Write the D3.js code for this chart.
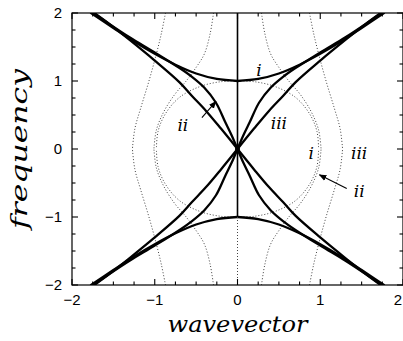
<!DOCTYPE html>
<html>
<head>
<meta charset="utf-8">
<script src="https://cdn.jsdelivr.net/npm/d3@7"></script>
<style>
  body { margin: 0; background: #fff; }
  svg { display: block; }
</style>
</head>
<body>
<div id="chart"></div>
<script>
// upper-right quadrant of each branch [wavevector, frequency]; drawn mirrored
const solidI   = [[0,1.00],[0.25,1.03],[0.5,1.11],[0.75,1.24],[1.0,1.40],[1.25,1.58],[1.5,1.78],[1.77,2.0]];
const solidII  = [[0,0],[0.07,0.2],[0.15,0.4],[0.26,0.68],[0.4,0.9],[0.55,1.06],[0.7,1.19],[1.0,1.42],[1.3,1.64],[1.55,1.84],[1.74,2.0]];
const solidIII = [[0,0],[0.2,0.3],[0.38,0.56],[0.55,0.78],[0.7,0.98],[1.0,1.3],[1.3,1.6],[1.55,1.84],[1.73,2.0]];
const dotI     = [[0,1.0],[0.2,0.99],[0.45,0.92],[0.7,0.76],[0.87,0.52],[0.96,0.26],[0.98,0]];
const dotII    = [[0.29,2.0],[0.33,1.7],[0.4,1.4],[0.5,1.2],[0.62,1.0],[0.76,0.8],[0.89,0.55],[0.98,0.28],[1.01,0]];
const dotIII   = [[0.87,2.0],[0.92,1.7],[0.98,1.4],[1.07,1.0],[1.17,0.6],[1.24,0.3],[1.27,0]];
const centerSolid = [[0,2],[0,-1]];
const centerDot   = [[0,-1],[0,-2]];

const xTicks = [-2,-1,0,1,2];
const yTicks = [-2,-1,0,1,2];
const romanLabels = [
  {t:'i',   k:0.26,  w:1.15},
  {t:'iii', k:0.50,  w:0.37},
  {t:'ii',  k:-0.66, w:0.34},
  {t:'i',   k:0.89,  w:-0.07},
  {t:'iii', k:1.47,  w:-0.07},
  {t:'ii',  k:1.47,  w:-0.63}
];
const arrows = [
  {from:[-0.43,0.46], to:[-0.26,0.70]},
  {from:[1.32,-0.58], to:[0.99,-0.38]}
];

const W = 403, H = 341;
const margin = {top: 13, left: 72, bottom: 56, right: 0};

const x = d3.scaleLinear().domain([-2,2]).range([margin.left, W - margin.right]);
const y = d3.scaleLinear().domain([-2,2]).range([H - margin.bottom, margin.top]);

const svg = d3.select('#chart').append('svg')
  .attr('width', W).attr('height', H);

svg.append('defs').append('clipPath').attr('id','plot')
  .append('rect')
  .attr('x', x(-2)).attr('y', y(2))
  .attr('width', x(2) - x(-2)).attr('height', y(-2) - y(2));

svg.append('defs').append('marker')
  .attr('id','head').attr('viewBox','0 0 10 10')
  .attr('refX', 9).attr('refY', 5)
  .attr('markerWidth', 7).attr('markerHeight', 7)
  .attr('orient','auto')
  .append('path').attr('d','M0,1 L10,5 L0,9 Z').attr('fill','#000');

const line = d3.line()
  .x(d => x(d[0]))
  .y(d => y(d[1]))
  .curve(d3.curveCatmullRom);

// 四个象限镜像
const mirrors = [[1,1],[-1,1],[1,-1],[-1,-1]];
const plot = svg.append('g').attr('clip-path','url(#plot)');

function drawBranch(data, style) {
  mirrors.forEach(([sx, sy]) => {
    plot.append('path')
      .datum(data.map(d => [d[0]*sx, d[1]*sy]))
      .attr('d', line)
      .attr('fill','none')
      .attr('stroke', style.stroke)
      .attr('stroke-width', style.width)
      .attr('stroke-dasharray', style.dash || null)
      .attr('stroke-linecap', style.cap || 'butt');
  });
}

const dotted = {stroke:'#444', width:1, dash:'1,2'};
const solid  = {stroke:'#000', width:2.3, cap:'round'};

drawBranch(dotI, dotted);
drawBranch(dotII, dotted);
drawBranch(dotIII, dotted);
drawBranch(solidI, solid);
drawBranch(solidII, solid);
drawBranch(solidIII, solid);

plot.append('path').datum(centerSolid).attr('d', line)
  .attr('fill','none').attr('stroke','#000').attr('stroke-width',1.6);
plot.append('path').datum(centerDot).attr('d', line)
  .attr('fill','none').attr('stroke','#444').attr('stroke-width',1).attr('stroke-dasharray','1,2');
plot.append('circle').attr('cx', x(0)).attr('cy', y(0)).attr('r', 2.5).attr('fill','#000');

// 坐标框和刻度
svg.append('rect')
  .attr('x', x(-2)).attr('y', y(2))
  .attr('width', x(2) - x(-2)).attr('height', y(-2) - y(2))
  .attr('fill','none').attr('stroke','#000').attr('stroke-width',1.2);

const minor = d3.range(-2, 2.001, 0.25);
const tickG = svg.append('g').attr('stroke','#000').attr('stroke-width',1.1);
minor.forEach(v => {
  const len = Number.isInteger(v) ? 6 : 3.5;
  tickG.append('line').attr('x1', x(v)).attr('x2', x(v)).attr('y1', y(-2)).attr('y2', y(-2) - len);
  tickG.append('line').attr('x1', x(v)).attr('x2', x(v)).attr('y1', y(2)).attr('y2', y(2) + len);
  tickG.append('line').attr('y1', y(v)).attr('y2', y(v)).attr('x1', x(-2)).attr('x2', x(-2) + len);
  tickG.append('line').attr('y1', y(v)).attr('y2', y(v)).attr('x1', x(2)).attr('x2', x(2) - len);
});

const fmt = v => v < 0 ? '\u2212' + Math.abs(v) : String(v);
svg.append('g').selectAll('text.xt').data(xTicks).join('text')
  .attr('x', d => d === 2 ? W - 1 : x(d)).attr('y', y(-2) + 20)
  .attr('text-anchor', d => d === 2 ? 'end' : 'middle')
  .attr('font-family','Liberation Sans, Arial, sans-serif')
  .attr('font-size', 15)
  .text(fmt);
svg.append('g').selectAll('text.yt').data(yTicks).join('text')
  .attr('x', x(-2) - 10).attr('y', d => y(d) + 5)
  .attr('text-anchor','end')
  .attr('font-family','Liberation Sans, Arial, sans-serif')
  .attr('font-size', 15)
  .text(fmt);

svg.append('text')
  .attr('x', x(0)).attr('y', 332)
  .attr('text-anchor','middle')
  .attr('font-family','DejaVu Serif, serif').attr('font-style','italic')
  .attr('font-size', 22)
  .attr('textLength', 140).attr('lengthAdjust','spacingAndGlyphs')
  .text('wavevector');
svg.append('text')
  .attr('transform', `translate(27,${y(0)}) rotate(-90)`)
  .attr('text-anchor','middle')
  .attr('font-family','DejaVu Serif, serif').attr('font-style','italic')
  .attr('font-size', 22)
  .attr('textLength', 160).attr('lengthAdjust','spacingAndGlyphs')
  .text('frequency');

svg.append('g').selectAll('text.rl').data(romanLabels).join('text')
  .attr('x', d => x(d.k)).attr('y', d => y(d.w) + 5)
  .attr('text-anchor','middle')
  .attr('font-family','DejaVu Serif, serif').attr('font-style','italic')
  .attr('font-size', 17)
  .text(d => d.t);

svg.append('g').selectAll('line.arr').data(arrows).join('line')
  .attr('x1', d => x(d.from[0])).attr('y1', d => y(d.from[1]))
  .attr('x2', d => x(d.to[0])).attr('y2', d => y(d.to[1]))
  .attr('stroke','#000').attr('stroke-width',1.1)
  .attr('marker-end','url(#head)');
</script>
</body>
</html>
